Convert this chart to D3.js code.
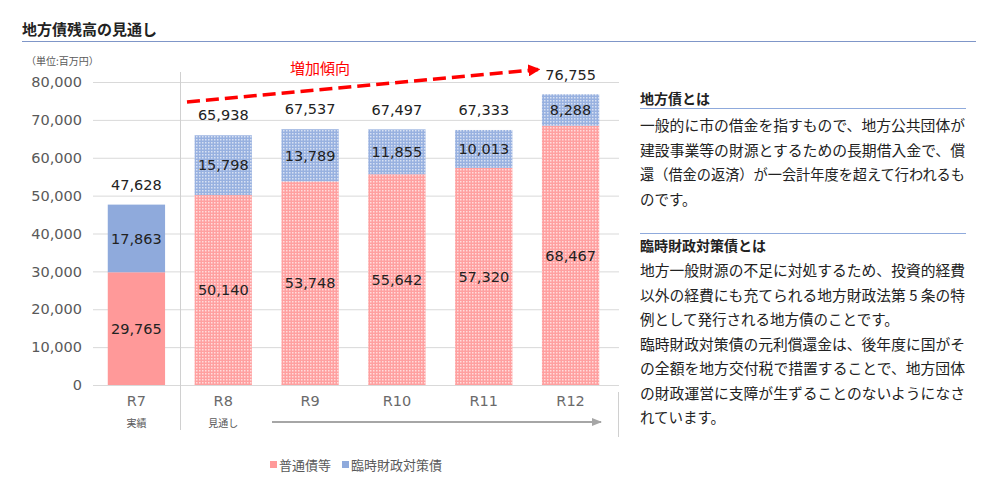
<!DOCTYPE html>
<html>
<head>
<meta charset="utf-8">
<script src="https://cdn.jsdelivr.net/npm/d3@7"></script>
<style>
  body { margin: 0; background: #fff; }
  svg { font-family: "Noto Sans CJK JP", "Noto Sans", sans-serif; }
  .num { font-family: "DejaVu Sans", sans-serif; }
</style>
</head>
<body>
<svg id="chart" width="1000" height="486"></svg>
<script>
const categories = ["R7", "R8", "R9", "R10", "R11", "R12"];
const subLabels = ["実績", "見通し", "", "", "", ""];
const futsuu = [29765, 50140, 53748, 55642, 57320, 68467];
const rinji = [17863, 15798, 13789, 11855, 10013, 8288];
const totals = [47628, 65938, 67537, 67497, 67333, 76755];
const yTicks = [0, 10000, 20000, 30000, 40000, 50000, 60000, 70000, 80000];
const seriesNames = ["普通債等", "臨時財政対策債"];

// [text, full line?]
const text1 = [
  ["一般的に市の借金を指すもので、地方公共団体が", true],
  ["建設事業等の財源とするための長期借入金で、償", true],
  ["還（借金の返済）が一会計年度を超えて行われるも", true],
  ["のです。", false]
];
const text2 = [
  ["地方一般財源の不足に対処するため、投資的経費", true],
  ["以外の経費にも充てられる地方財政法第 5 条の特", true],
  ["例として発行される地方債のことです。", false],
  ["臨時財政対策債の元利償還金は、後年度に国がそ", true],
  ["の全額を地方交付税で措置することで、地方団体", true],
  ["の財政運営に支障が生ずることのないようになさ", true],
  ["れています。", false]
];

const red = "#ff9999", blue = "#8faadc";
const svg = d3.select("#chart");

// patterns for forecast bars
const defs = svg.append("defs");
[["patRed", "#ffa0a0", "#ffdcdc"], ["patBlue", "#98b1e0", "#d8e1f3"]].forEach(([id, c, l]) => {
  const p = defs.append("pattern").attr("id", id)
    .attr("width", 3).attr("height", 3).attr("patternUnits", "userSpaceOnUse");
  p.append("rect").attr("width", 3).attr("height", 3).attr("fill", c);
  p.append("rect").attr("x", 1).attr("y", 1).attr("width", 1.5).attr("height", 1.5).attr("fill", l);
});

// title
svg.append("text").attr("x", 22).attr("y", 35)
  .attr("font-size", 15).attr("font-weight", "bold").attr("fill", "#222")
  .text("地方債残高の見通し");
svg.append("line").attr("x1", 22).attr("x2", 976).attr("y1", 41.5).attr("y2", 41.5)
  .attr("stroke", "#7f96c8").attr("stroke-width", 1.2);

const x = d3.scaleBand().domain(categories).range([93, 614]).paddingInner(0.34).paddingOuter(0.17);
const y = d3.scaleLinear().domain([0, 80000]).range([385, 82]);
const fmt = d3.format(",");

// gridlines
svg.append("g").selectAll("line").data(yTicks).join("line")
  .attr("x1", 93).attr("x2", 619)
  .attr("y1", d => y(d) + 0.5).attr("y2", d => y(d) + 0.5)
  .attr("stroke", "#d9d9d9").attr("stroke-width", 1);

// y axis labels
svg.append("g").attr("class", "num").selectAll("text").data(yTicks).join("text")
  .attr("x", 82).attr("y", d => y(d)).attr("dy", "0.36em")
  .attr("text-anchor", "end").attr("font-size", 14.5).attr("fill", "#595959")
  .text(d => fmt(d));
svg.append("text").attr("x", 26).attr("y", 65).attr("font-size", 10).attr("fill", "#595959")
  .text("（単位:百万円）");

// separators
svg.append("line").attr("x1", 180.5).attr("x2", 180.5).attr("y1", 72).attr("y2", 430)
  .attr("stroke", "#d0d0d0");
svg.append("line").attr("x1", 618.5).attr("x2", 618.5).attr("y1", 392).attr("y2", 437)
  .attr("stroke", "#d0d0d0");

// bars
const bars = svg.append("g");
categories.forEach((c, i) => {
  const forecast = i > 0;
  bars.append("rect").attr("x", x(c)).attr("width", x.bandwidth())
    .attr("y", y(futsuu[i])).attr("height", y(0) - y(futsuu[i]))
    .attr("fill", forecast ? "url(#patRed)" : red);
  bars.append("rect").attr("x", x(c)).attr("width", x.bandwidth())
    .attr("y", y(futsuu[i] + rinji[i])).attr("height", y(futsuu[i]) - y(futsuu[i] + rinji[i]))
    .attr("fill", forecast ? "url(#patBlue)" : blue);
});

const labels = svg.append("g").attr("class", "num").attr("font-size", 14.5)
  .attr("fill", "#222").attr("text-anchor", "middle");
categories.forEach((c, i) => {
  const cx = x(c) + x.bandwidth() / 2;
  labels.append("text").attr("x", cx).attr("y", y(futsuu[i] / 2)).attr("dy", "0.36em").text(fmt(futsuu[i]));
  labels.append("text").attr("x", cx).attr("y", y(futsuu[i] + rinji[i] / 2)).attr("dy", "0.36em").text(fmt(rinji[i]));
  labels.append("text").attr("x", cx).attr("y", y(totals[i]) - 20).attr("dy", "0.36em").text(fmt(totals[i]));
});

// category labels
svg.append("g").attr("class", "num").selectAll("text").data(categories).join("text")
  .attr("x", d => x(d) + x.bandwidth() / 2).attr("y", 406)
  .attr("text-anchor", "middle").attr("font-size", 14.5).attr("fill", "#6a6a6a")
  .text(d => d);
svg.append("g").selectAll("text").data(subLabels).join("text")
  .attr("x", (d, i) => x(categories[i]) + x.bandwidth() / 2).attr("y", 427)
  .attr("text-anchor", "middle").attr("font-size", 10).attr("fill", "#595959")
  .text(d => d);

// markers
defs.append("marker").attr("id", "grayHead").attr("viewBox", "0 0 10 10")
  .attr("refX", 9).attr("refY", 5).attr("markerWidth", 5).attr("markerHeight", 5)
  .attr("markerUnits", "strokeWidth").attr("orient", "auto")
  .append("path").attr("d", "M0,1L10,5L0,9Z").attr("fill", "#a6a6a6");
defs.append("marker").attr("id", "redHead").attr("viewBox", "0 0 10 10")
  .attr("refX", 8).attr("refY", 5).attr("markerWidth", 3.5).attr("markerHeight", 3.5)
  .attr("markerUnits", "strokeWidth").attr("orient", "auto")
  .append("path").attr("d", "M0,0L10,5L0,10Z").attr("fill", "#ff0000");

svg.append("line").attr("x1", 272).attr("x2", 601).attr("y1", 422).attr("y2", 422)
  .attr("stroke", "#a6a6a6").attr("stroke-width", 2).attr("marker-end", "url(#grayHead)");

// trend arrow
svg.append("line").attr("x1", 187).attr("y1", 102).attr("x2", 538).attr("y2", 69.5)
  .attr("stroke", "#ff0000").attr("stroke-width", 3.5).attr("stroke-dasharray", "13,6")
  .attr("marker-end", "url(#redHead)");
svg.append("text").attr("x", 290).attr("y", 74).attr("font-size", 15).attr("fill", "#ff0000")
  .text("増加傾向");

// legend
const legend = svg.append("g").attr("font-size", 13).attr("fill", "#595959");
[[red, 270], [blue, 342]].forEach(([col, lx], i) => {
  legend.append("rect").attr("x", lx).attr("y", 461).attr("width", 7).attr("height", 7).attr("fill", col);
  legend.append("text").attr("x", lx + 9).attr("y", 469.5).text(seriesNames[i]);
});

// right explanation
const side = svg.append("g").attr("fill", "#222");
const para = (lines, y0) => lines.forEach(([t, full], i) => {
  const tx = side.append("text").attr("x", 640).attr("y", y0 + i * 24.5).attr("font-size", 14.5).text(t);
  if (full) tx.attr("textLength", 325).attr("lengthAdjust", "spacingAndGlyphs");
});
side.append("text").attr("x", 640).attr("y", 104).attr("font-size", 14).attr("font-weight", "bold").text("地方債とは");
side.append("line").attr("x1", 640).attr("x2", 966).attr("y1", 108.5).attr("y2", 108.5)
  .attr("stroke", "#8faadc").attr("stroke-width", 1.2);
para(text1, 131);
side.append("line").attr("x1", 640).attr("x2", 966).attr("y1", 233.5).attr("y2", 233.5)
  .attr("stroke", "#8faadc").attr("stroke-width", 1.2);
side.append("text").attr("x", 640).attr("y", 251).attr("font-size", 14).attr("font-weight", "bold").text("臨時財政対策債とは");
para(text2, 276);
</script>
</body>
</html>
